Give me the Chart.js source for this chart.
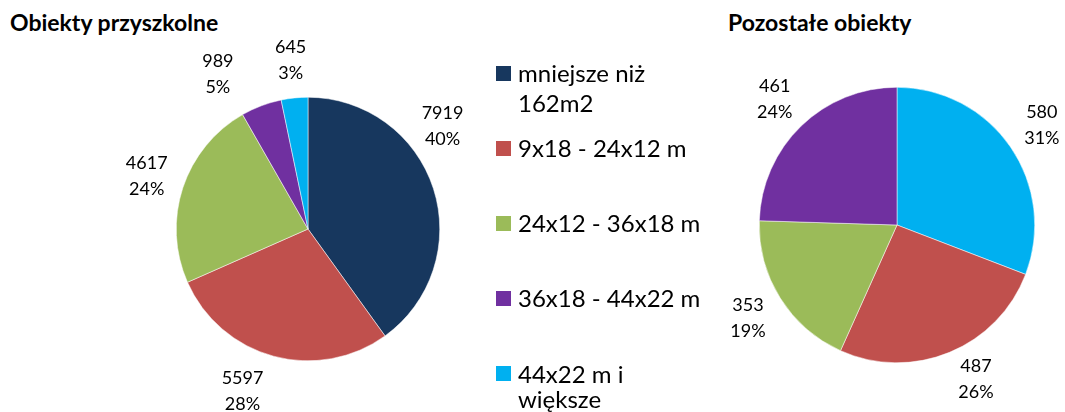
<!DOCTYPE html>
<html>
<head>
<meta charset="utf-8">
<script src="https://cdn.jsdelivr.net/npm/chart.js@4.4.0/dist/chart.umd.min.js"></script>
<style>
  body { margin: 0; background: #fff; width: 1065px; height: 412px; overflow: hidden; position: relative; font-family: Lato, sans-serif; color: #000; }
  .title { position: absolute; top: 8px; font-weight: bold; font-size: 23px; line-height: 28px; white-space: nowrap; }
  #leftBox { position: absolute; left: 0; top: 0; width: 490px; height: 412px; }
  #rightBox { position: absolute; left: 560px; top: 0; width: 505px; height: 412px; }
  #legend { position: absolute; left: 496px; top: 58px; width: 230px; z-index: 2; }
  .item { position: relative; height: 75px; padding-left: 22px; font-size: 24px; line-height: 30px; white-space: pre-line; }
  .item i { position: absolute; left: 0; top: 7.5px; width: 15px; height: 15px; }
  .item:last-child { line-height: 25px; padding-top: 3px; height: 72px; }
  .item:last-child i { top: 8px; }
</style>
</head>
<body>
<div class="title" style="left:10px">Obiekty przyszkolne</div>
<div class="title" style="left:728px">Pozostałe obiekty</div>
<div id="leftBox"><canvas id="leftChart"></canvas></div>
<div id="legend"></div>
<div id="rightBox"><canvas id="rightChart"></canvas></div>
<script>
// categories and colours (shared legend)
const categories = ['mniejsze niż\n162m2', '9x18 - 24x12 m', '24x12 - 36x18 m', '36x18 - 44x22 m', '44x22 m i\nwiększe'];
const colors = ['#17375E', '#C0504D', '#9BBB59', '#7030A0', '#00B0F0'];

// Obiekty przyszkolne
const leftValues = [7919, 5597, 4617, 989, 645];
const leftPercent = ['40%', '28%', '24%', '5%', '3%'];

// Pozostałe obiekty (order as drawn, clockwise from top)
const rightCategories = ['44x22 m i\nwiększe', '9x18 - 24x12 m', '24x12 - 36x18 m', '36x18 - 44x22 m'];
const rightColors = ['#00B0F0', '#C0504D', '#9BBB59', '#7030A0'];
const rightValues = [580, 487, 353, 461];
const rightPercent = ['31%', '26%', '19%', '24%'];

// legend
const legend = document.getElementById('legend');
legend.innerHTML = categories.map((c, i) =>
  `<div class="item"><i style="background:${colors[i]}"></i>${c}</div>`
).join('');

// value + percent label outside each slice
function outsideLabels(percents, shift) {
  return {
    id: 'outsideLabels',
    afterDatasetsDraw(chart) {
      const ctx = chart.ctx;
      const meta = chart.getDatasetMeta(0);
      const data = chart.data.datasets[0].data;
      ctx.save();
      ctx.font = '18px Lato';
      ctx.fillStyle = '#000';
      ctx.textAlign = 'center';
      ctx.textBaseline = 'middle';
      meta.data.forEach((arc, i) => {
        const p = arc.getProps(['x', 'y', 'startAngle', 'endAngle', 'outerRadius'], true);
        const mid = (p.startAngle + p.endAngle) / 2;
        const d = p.outerRadius + 38;
        const s = shift[i] || [0, 0];
        const cx = p.x + Math.cos(mid) * d + s[0];
        const cy = p.y + Math.sin(mid) * d + s[1];
        ctx.fillText(String(data[i]), cx, cy - 13);
        ctx.fillText(percents[i], cx, cy + 13);
      });
      ctx.restore();
    }
  };
}

function pieOptions(padding) {
  return {
    responsive: true,
    maintainAspectRatio: false,
    animation: false,
    layout: { padding: padding },
    plugins: { legend: { display: false }, tooltip: { enabled: false } }
  };
}

new Chart(document.getElementById('leftChart'), {
  type: 'pie',
  data: {
    labels: categories,
    datasets: [{ data: leftValues, backgroundColor: colors, borderColor: '#fff', borderWidth: 0.5 }]
  },
  options: pieOptions({ left: 176, right: 50, top: 97, bottom: 51 }),
  plugins: [outsideLabels(leftPercent, [[-27, -51], [-21, -2], [0, 0], [-30, 4], [0, 0]])]
});

new Chart(document.getElementById('rightChart'), {
  type: 'pie',
  data: {
    labels: rightCategories,
    datasets: [{ data: rightValues, backgroundColor: rightColors, borderColor: '#fff', borderWidth: 0.5 }]
  },
  options: pieOptions({ left: 199, right: 30, top: 87, bottom: 49 }),
  plugins: [outsideLabels(rightPercent, [[0, 0], [12, -8], [0, 0], [0, 0]])]
});
</script>
</body>
</html>
